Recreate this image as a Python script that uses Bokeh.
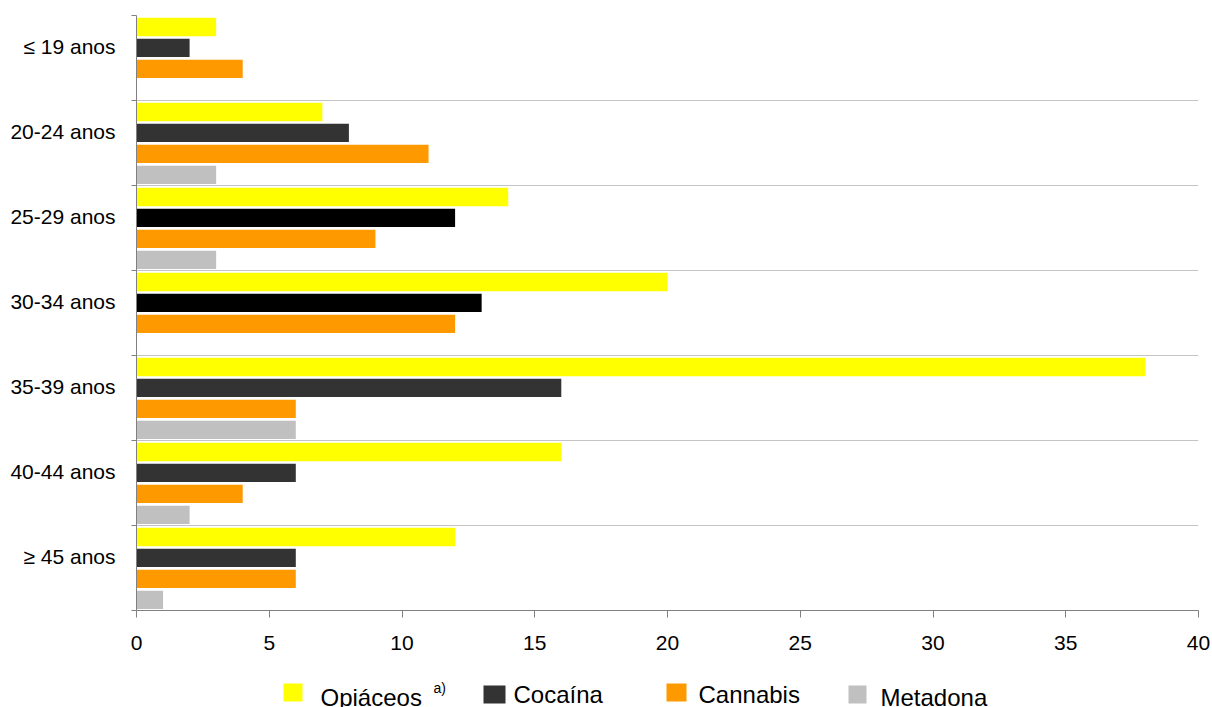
from bokeh.plotting import figure
from bokeh.layouts import column
from bokeh.models import Range1d, FixedTicker, Label, ColumnDataSource
from bokeh.core.properties import value
from bokeh.embed import file_html
from bokeh.resources import INLINE

# Utentes por grupo etário e droga principal (2006)
age_groups = ["≤ 19 anos", "20-24 anos", "25-29 anos", "30-34 anos",
              "35-39 anos", "40-44 anos", "≥ 45 anos"]
opiaceos = [3, 7, 14, 20, 38, 16, 12]
cocaina = [2, 8, 12, 13, 16, 6, 6]
cannabis = [4, 11, 9, 12, 6, 4, 6]
metadona = [0, 3, 3, 0, 6, 2, 1]
x_ticks = [0, 5, 10, 15, 20, 25, 30, 35, 40]
title_text = "2006"
legend_names = ["Opiáceos", "Cocaína", "Cannabis", "Metadona"]

FONT = "Liberation Sans"
AXIS_GREY = "#808080"
BORDER_L, BORDER_R = 136, 14
FRAME_W = 1212 - BORDER_L - BORDER_R

n = len(age_groups)
series = [opiaceos, cocaina, cannabis, metadona]
colors = ["#FFFF00", "#333333", "#FF9900", "#C0C0C0"]

# cocaine bars of two groups are drawn in pure black
coc_colors = ["#333333"] * n
coc_colors[2] = "#000000"
coc_colors[3] = "#000000"

p = figure(width=1212, height=670, frame_width=FRAME_W, frame_height=595,
           min_border_left=BORDER_L, min_border_right=BORDER_R, min_border_top=15,
           min_border_bottom=60, output_backend="svg", toolbar_location=None,
           x_range=Range1d(0, 40), y_range=Range1d(n, 0))
p.outline_line_color = None
p.background_fill_color = "white"
p.border_fill_color = "white"

bar_h = 0.216
first_off = 0.135
step = 0.2465
for k, (vals, col) in enumerate(zip(series, colors)):
    ys = [i + first_off + k * step for i in range(n)]
    fill = coc_colors if k == 1 else [col] * n
    src = ColumnDataSource(dict(y=ys, right=vals, color=fill))
    p.hbar(y="y", left=0, right="right", height=bar_h, source=src,
           fill_color="color", line_color=None)

# category labels sit a little above each band's centre
label_shift = 0.365
label_pos = [i + label_shift for i in range(n)]
boundaries = list(range(n + 1))

p.yaxis.ticker = FixedTicker(ticks=label_pos, minor_ticks=boundaries)
p.yaxis.major_label_overrides = {pos: name for pos, name in zip(label_pos, age_groups)}
p.yaxis.major_tick_line_color = None
p.yaxis.major_tick_out = 0
p.yaxis.major_tick_in = 0
p.yaxis.minor_tick_out = 5
p.yaxis.minor_tick_in = 0
p.yaxis.minor_tick_line_color = AXIS_GREY
p.yaxis.axis_line_color = AXIS_GREY
p.yaxis.bounds = (0, n)
p.yaxis.major_label_standoff = 16
p.yaxis.major_label_text_font = FONT
p.yaxis.major_label_text_font_size = "21px"
p.yaxis.major_label_text_color = "black"

p.xaxis.ticker = FixedTicker(ticks=x_ticks, minor_ticks=[])
p.xaxis.major_tick_out = 7
p.xaxis.major_tick_in = 0
p.xaxis.major_tick_line_color = AXIS_GREY
p.xaxis.axis_line_color = AXIS_GREY
p.xaxis.minor_tick_line_color = None
p.xaxis.major_label_standoff = 18
p.xaxis.major_label_text_font = FONT
p.xaxis.major_label_text_font_size = "21px"
p.xaxis.major_label_text_color = "black"

p.xgrid.grid_line_color = None
p.ygrid.ticker = FixedTicker(ticks=boundaries)
p.ygrid.grid_line_color = "#C4C4C4"
p.ygrid.grid_line_width = 1

p.add_layout(Label(x=17.93, y=-0.129, text=title_text, text_align="center",
                   text_baseline="alphabetic", text_font="Liberation Serif",
                   text_font_size="22px", text_color="black"))

# legend strip below the chart; its frame lines up with the chart's frame,
# so the x range is expressed in page pixels
leg = figure(width=1212, height=37, frame_width=FRAME_W, frame_height=37,
             output_backend="svg", toolbar_location=None,
             x_range=Range1d(BORDER_L, 1212 - BORDER_R), y_range=Range1d(37, 0),
             x_axis_location=None, y_axis_location=None,
             min_border_left=BORDER_L, min_border_right=BORDER_R,
             min_border_top=0, min_border_bottom=0)
leg.outline_line_color = None
leg.xgrid.grid_line_color = None
leg.ygrid.grid_line_color = None

sq_left = [283, 483, 666, 848]
sq_right = [302, 505, 686, 866]
sq_top = [13, 15, 13, 15]
sq_bottom = [31, 33, 31, 33]
leg.quad(left=sq_left, right=sq_right, top=sq_top, bottom=sq_bottom,
         fill_color=colors, line_color=None)

txt_x = [320, 513, 698, 880]
txt_y = [27, 23.5, 23.5, 27]
leg.text(x=txt_x, y=txt_y, text=legend_names, text_font=value(FONT),
         text_font_size="24px", text_baseline="alphabetic", text_align="left",
         text_color="black")
leg.text(x=[433], y=[17], text=["a)"], text_font=value(FONT),
         text_font_size="14px", text_baseline="alphabetic", text_align="left",
         text_color="black")

layout = column(p, leg, spacing=0)
open("out.html", "w").write(file_html(layout, INLINE))
